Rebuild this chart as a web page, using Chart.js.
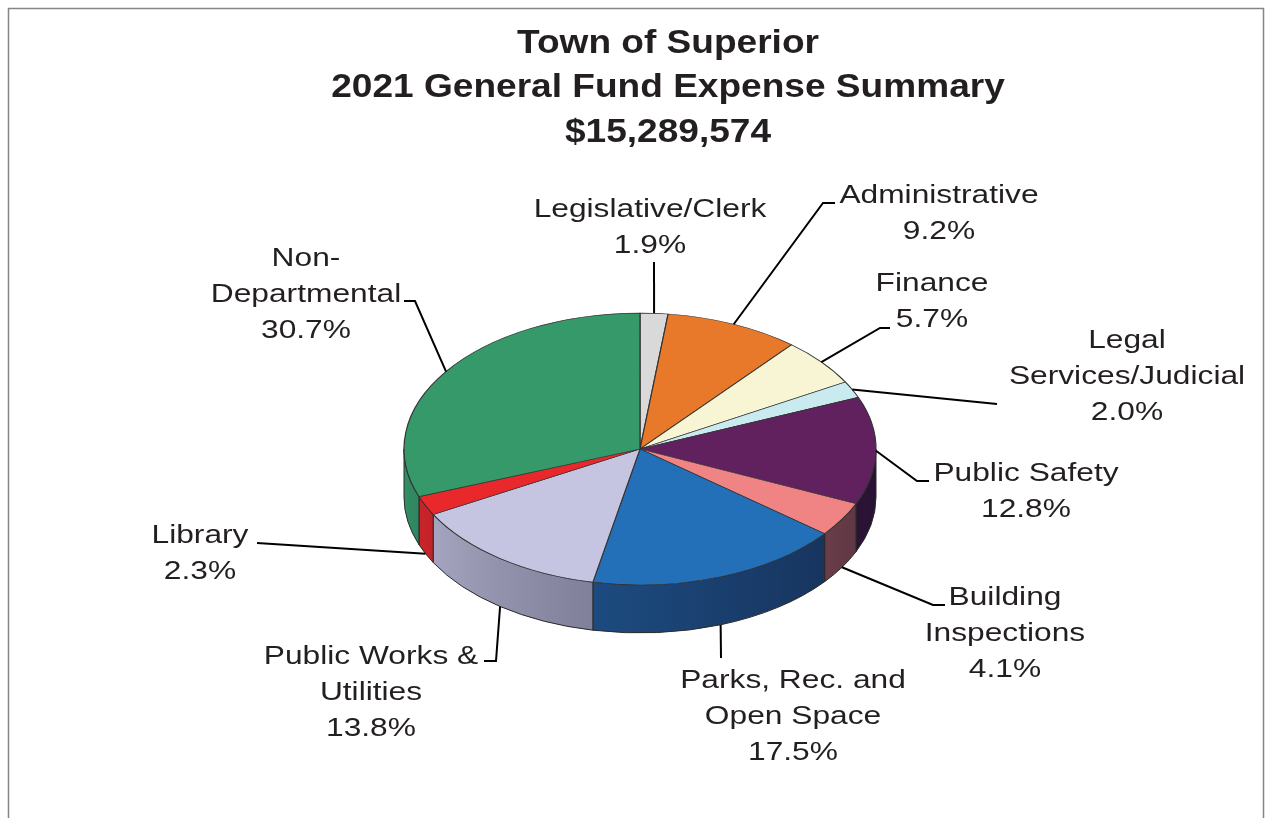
<!DOCTYPE html>
<html>
<head>
<meta charset="utf-8">
<title>Town of Superior - 2021 General Fund Expense Summary</title>
<script src="https://cdn.jsdelivr.net/npm/chart.js@4.4.0/dist/chart.umd.min.js"></script>
<style>
  html, body { margin: 0; padding: 0; background: #fff; }
  canvas { display: block; }
</style>
</head>
<body>
<canvas id="expenseChart" width="1272" height="818"></canvas>
<script>
const titleLines = ['Town of Superior', '2021 General Fund Expense Summary', '$15,289,574'];
const departments = [
  ['Legislative/Clerk'],
  ['Administrative'],
  ['Finance'],
  ['Legal', 'Services/Judicial'],
  ['Public Safety'],
  ['Building', 'Inspections'],
  ['Parks, Rec. and', 'Open Space'],
  ['Public Works &', 'Utilities'],
  ['Library'],
  ['Non-', 'Departmental']
];
const percentShares = [1.9, 9.2, 5.7, 2.0, 12.8, 4.1, 17.5, 13.8, 2.3, 30.7];
const sliceColors = ['#d9d9d9', '#e8792b', '#f7f5d3', '#c9eaee', '#61205e',
                     '#f08484', '#2470b8', '#c5c5e2', '#e8282a', '#35996a'];

// where each label block sits (centre x, first baseline) and the leader bends
const labelSpots = [
  { x: 650,  y: 217, lead: [[654, 262]] },
  { x: 939,  y: 203, lead: [[823, 203], [835, 203]] },
  { x: 932,  y: 291, lead: [[880, 328], [890, 328]] },
  { x: 1127, y: 348, lead: [[997, 404]] },
  { x: 1026, y: 481, lead: [[917, 481], [929, 481]] },
  { x: 1005, y: 605, lead: [[933, 605], [945, 605]] },
  { x: 793,  y: 688, lead: [[721, 658]] },
  { x: 371,  y: 664, lead: [[496, 661], [484, 661]] },
  { x: 200,  y: 543, lead: [[257, 543]] },
  { x: 306,  y: 266, lead: [[415, 301], [404, 301]] }
];

const TILT = 0.576;   // vertical squash of the pie top
const DEPTH = 48;     // height of the side wall
const LINE_GAP = 36;
const WALL_TINT = [25, 20, 55];

function rgb(hex) {
  const n = parseInt(hex.slice(1), 16);
  return [(n >> 16) & 255, (n >> 8) & 255, n & 255];
}
function shade(hex, f) {
  const c = rgb(hex).map((v, k) => Math.round(Math.min(255, v * f + WALL_TINT[k] * (1 - f) * 0.6)));
  return 'rgb(' + c.join(',') + ')';
}
// walls get lighter towards the left
function wallLight(t) {
  const deg = Math.max(0, Math.min(180, t * 180 / Math.PI));
  return 0.3 + 0.65 * Math.pow(deg / 180, 1.2);
}

function stretchText(ctx, str, x, y, sx) {
  ctx.save();
  ctx.translate(x, y);
  ctx.scale(sx, 1);
  ctx.fillText(str, 0, 0);
  ctx.restore();
}

const pie3d = {
  id: 'pie3d',
  beforeDatasetsDraw(chart) {
    const ctx = chart.ctx;
    const arcs = chart.getDatasetMeta(0).data;
    const cx = arcs[0].x, cy = arcs[0].y, R = arcs[0].outerRadius;
    const ry = R * TILT;

    // side walls of the front half
    arcs.forEach((arc, i) => {
      const a0 = Math.max(arc.startAngle, 0);
      const a1 = Math.min(arc.endAngle, Math.PI);
      if (a0 >= a1) return;
      const x0 = cx + R * Math.cos(a0), x1 = cx + R * Math.cos(a1);
      const grad = ctx.createLinearGradient(x0, 0, x1, 0);
      const steps = 8;
      for (let s = 0; s <= steps; s++) {
        const t = a0 + (a1 - a0) * s / steps;
        const px = cx + R * Math.cos(t);
        const pos = Math.abs(x1 - x0) < 0.5 ? s / steps : (px - x0) / (x1 - x0);
        grad.addColorStop(Math.max(0, Math.min(1, pos)), shade(sliceColors[i], wallLight(t)));
      }
      ctx.beginPath();
      ctx.ellipse(cx, cy, R, ry, 0, a0, a1, false);
      ctx.ellipse(cx, cy + DEPTH, R, ry, 0, a1, a0, true);
      ctx.closePath();
      ctx.fillStyle = grad;
      ctx.fill();
      ctx.strokeStyle = '#2a2a2a';
      ctx.lineWidth = 1;
      ctx.stroke();
    });

    // squash the round pie into the tilted top
    ctx.save();
    ctx.translate(cx, cy);
    ctx.scale(1, TILT);
    ctx.translate(-cx, -cy);
  },
  afterDatasetsDraw(chart) {
    const ctx = chart.ctx;
    ctx.restore();

    const arcs = chart.getDatasetMeta(0).data;
    const cx = arcs[0].x, cy = arcs[0].y, R = arcs[0].outerRadius;

    // leader lines
    ctx.strokeStyle = '#000';
    ctx.lineWidth = 2;
    arcs.forEach((arc, i) => {
      const mid = (arc.startAngle + arc.endAngle) / 2;
      let ax = cx + R * Math.cos(mid);
      let ay = cy + R * TILT * Math.sin(mid);
      if (Math.sin(mid) > 0.2) ay += DEPTH;
      ctx.beginPath();
      ctx.moveTo(ax, ay);
      labelSpots[i].lead.forEach(p => ctx.lineTo(p[0], p[1]));
      ctx.stroke();
    });

    // labels
    ctx.fillStyle = '#231f20';
    ctx.font = '26px "Liberation Sans", Arial, sans-serif';
    ctx.textAlign = 'center';
    ctx.textBaseline = 'alphabetic';
    departments.forEach((lines, i) => {
      const spot = labelSpots[i];
      const rows = lines.concat([percentShares[i].toFixed(1) + '%']);
      rows.forEach((row, r) => stretchText(ctx, row, spot.x, spot.y + r * LINE_GAP, 1.22));
    });
  },
  afterDraw(chart) {
    const ctx = chart.ctx;
    ctx.save();
    ctx.strokeStyle = '#858585';
    ctx.lineWidth = 1.5;
    ctx.strokeRect(8.5, 8.5, 1255, 830);

    ctx.fillStyle = '#231f20';
    ctx.font = 'bold 34px "Liberation Sans", Arial, sans-serif';
    ctx.textAlign = 'center';
    ctx.textBaseline = 'alphabetic';
    const baselines = [53, 97, 142];
    titleLines.forEach((line, i) => stretchText(ctx, line, 668, baselines[i], 1.09));
    ctx.restore();
  }
};

new Chart(document.getElementById('expenseChart'), {
  type: 'pie',
  data: {
    labels: departments.map(d => d.join(' ')),
    datasets: [{
      data: percentShares,
      backgroundColor: sliceColors,
      borderColor: '#333333',
      borderWidth: 1.2
    }]
  },
  options: {
    responsive: false,
    animation: false,
    radius: 236,
    layout: { padding: { left: 8, right: 0, top: 180, bottom: 100 } },
    plugins: {
      legend: { display: false },
      tooltip: { enabled: false },
      title: { display: false }
    }
  },
  plugins: [pie3d]
});
</script>
</body>
</html>
